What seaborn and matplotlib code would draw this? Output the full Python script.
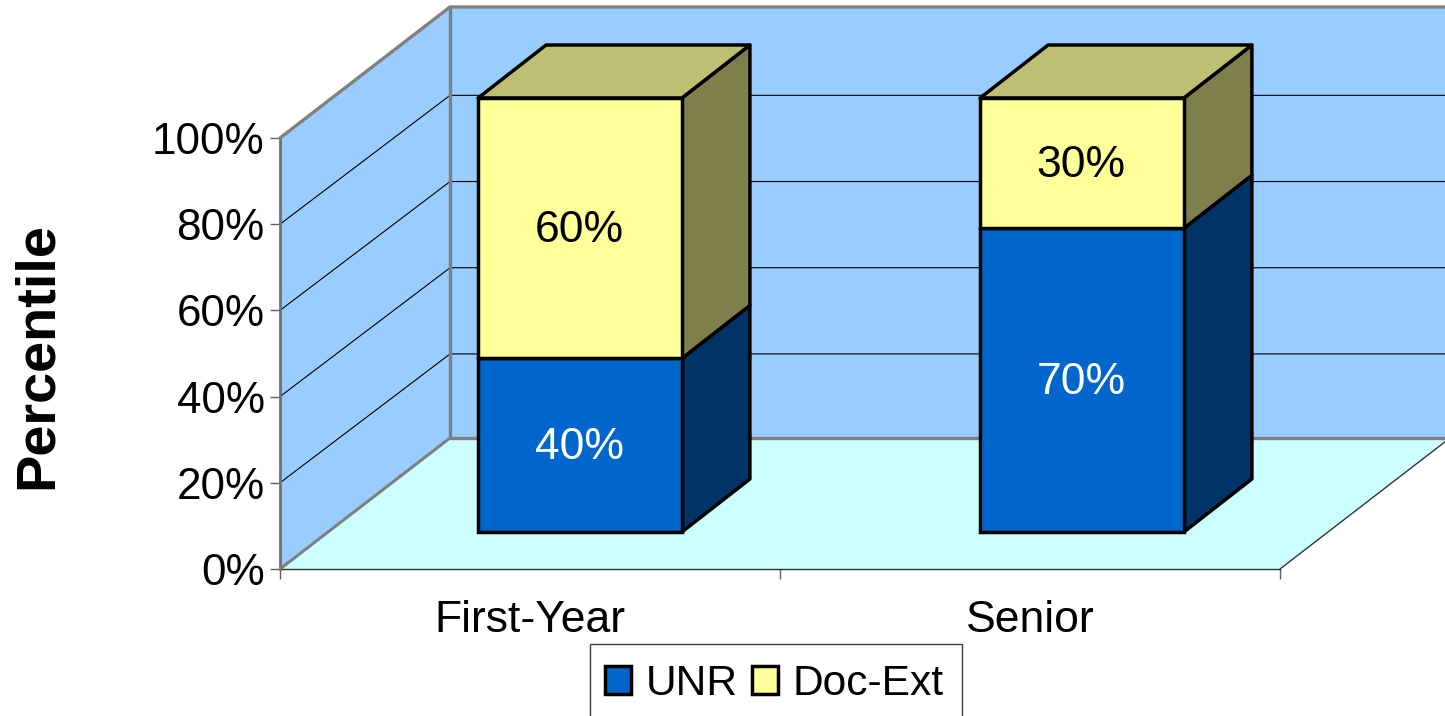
"""3D-look stacked percentile bars, first-year vs senior students."""

import matplotlib.pyplot as plt
import seaborn as sns
from matplotlib.patches import Patch, Polygon, Rectangle
from matplotlib.ticker import FixedLocator, NullFormatter

categories = ["First-Year", "Senior"]
unr_values = [40, 70]
doc_ext_values = [60, 30]
y_ticks = [0, 20, 40, 60, 80, 100]
y_tick_labels = ["0%", "20%", "40%", "60%", "80%", "100%"]

W, H = 1445, 716
WALL_COL = "#99CCFF"
FLOOR_COL = "#CCFFFF"
EDGE_GRAY = "#808080"
BAR_STYLES = [
    # front, side, top
    ("#0066CC", "#003366", "#00509F"),
    ("#FFFF99", "#7F7F4C", "#BFBF73"),
]


def px_axes(fig, left, right, top, bottom):
    """Axes placed by pixel edges, y measured from the top of the image."""
    return fig.add_axes([left / W, 1 - bottom / H, (right - left) / W, (bottom - top) / H])


def add_poly(ax, pts, **kwargs):
    ax.add_patch(Polygon(pts, closed=True, clip_on=False, **kwargs))


sns.set_theme(style="white")
plt.rcParams["font.family"] = ["Liberation Sans", "DejaVu Sans"]

fig = plt.figure(figsize=(W / 100, H / 100), dpi=100)

# walls and floor, front plane of the box is the axes itself
ax = px_axes(fig, 280, 1280, 138, 569)
ax.set_xlim(-0.5, 1.5)
ax.set_ylim(0, 100)
ax.patch.set_alpha(0)

wall_dx = 0.34
wall_dy = 30.4
grid_dy = 29.9
far_x = 1.5 + wall_dx

add_poly(ax, [(-0.5, 0), (-0.5 + wall_dx, wall_dy), (far_x, wall_dy), (1.5, 0)],
         facecolor=FLOOR_COL, edgecolor="none", zorder=1)
add_poly(ax, [(-0.5 + wall_dx, wall_dy), (far_x, wall_dy), (far_x, 100 + wall_dy), (-0.5 + wall_dx, 100 + wall_dy)],
         facecolor=WALL_COL, edgecolor="none", zorder=1)
add_poly(ax, [(-0.5, 0), (-0.5 + wall_dx, wall_dy), (-0.5 + wall_dx, 100 + wall_dy), (-0.5, 100)],
         facecolor=WALL_COL, edgecolor="none", zorder=1)

for tick in y_ticks[1:-1]:
    ax.plot([-0.5, -0.5 + wall_dx, far_x], [tick, tick + grid_dy, tick + grid_dy],
            color="black", lw=0.8, clip_on=False, zorder=2)

ax.plot([-0.5, -0.5 + wall_dx, far_x], [100, 100 + wall_dy, 100 + wall_dy],
        color=EDGE_GRAY, lw=2.4, clip_on=False, zorder=3)
ax.plot([far_x, -0.5 + wall_dx, -0.5 + wall_dx], [wall_dy, wall_dy, 100 + wall_dy],
        color=EDGE_GRAY, lw=2.4, clip_on=False, zorder=3)
ax.plot([-0.5, -0.5 + wall_dx], [0, wall_dy], color=EDGE_GRAY, lw=2.2, clip_on=False, zorder=3)
ax.plot([1.5, far_x], [0, wall_dy], color="#333333", lw=1.0, clip_on=False, zorder=3)

sns.despine(ax=ax, top=True, right=True)
ax.spines["left"].set_color("#707070")
ax.spines["left"].set_linewidth(2.0)
ax.spines["bottom"].set_color("#303030")
ax.spines["bottom"].set_linewidth(1.0)

ax.set_yticks(y_ticks)
ax.set_yticklabels(y_tick_labels, fontsize=31.7, color="black")
ax.tick_params(axis="y", length=7, width=1.0, color="#606060", pad=4, left=True)
ax.xaxis.set_major_locator(FixedLocator([-0.5, 0.5, 1.5]))
ax.xaxis.set_major_formatter(NullFormatter())
ax.xaxis.set_minor_locator(FixedLocator([0, 1]))
ax.set_xticklabels(categories, minor=True, fontsize=32, color="black")
ax.tick_params(axis="x", which="major", length=7, width=1.0, color="#606060", bottom=True)
ax.tick_params(axis="x", which="minor", length=0, pad=22)

ax.set_ylabel("Percentile", fontsize=40.3, fontweight="bold", color="black")
ax.yaxis.set_label_coords((38 - 280) / 1000, (569 - 356) / 431)
ax.yaxis.label.set_verticalalignment("center")

# bars stand further back in the box, so they get their own axes
bar_ax = px_axes(fig, 329, 1333, 98, 532)
bar_ax.patch.set_alpha(0)
bar_ax.axis("off")

sns.barplot(x=categories, y=unr_values, color=BAR_STYLES[0][0], saturation=1, width=0.406,
            edgecolor="black", linewidth=2.5, ax=bar_ax, zorder=5)
sns.barplot(x=categories, y=doc_ext_values, bottom=unr_values, color=BAR_STYLES[1][0], saturation=1,
            width=0.406, edgecolor="black", linewidth=2.5, ax=bar_ax, zorder=5)
bar_ax.set_xlim(-0.5, 1.5)
bar_ax.set_ylim(0, 100)
for bar in bar_ax.patches:
    bar.set_clip_on(False)

bar_dx = 68 / 502
bar_dy = 53 / 4.34
face_kw = dict(edgecolor="black", linewidth=2.5, joinstyle="round", zorder=4)
half = 0.406 / 2
label_kw = dict(fontsize=32, ha="center", va="center", zorder=6, xytext=(-1, -2),
                textcoords="offset pixels")

for i in range(len(categories)):
    low, high = unr_values[i], unr_values[i] + doc_ext_values[i]
    right = i + half
    left = i - half
    add_poly(bar_ax, [(right, 0), (right + bar_dx, bar_dy), (right + bar_dx, low + bar_dy), (right, low)],
             facecolor=BAR_STYLES[0][1], **face_kw)
    add_poly(bar_ax, [(right, low), (right + bar_dx, low + bar_dy), (right + bar_dx, high + bar_dy), (right, high)],
             facecolor=BAR_STYLES[1][1], **face_kw)
    add_poly(bar_ax, [(left, high), (left + bar_dx, high + bar_dy), (right + bar_dx, high + bar_dy), (right, high)],
             facecolor=BAR_STYLES[1][2], **face_kw)
    bar_ax.annotate(f"{unr_values[i]}%", (i, low / 2), color="white", **label_kw)
    bar_ax.annotate(f"{doc_ext_values[i]}%", (i, low + doc_ext_values[i] / 2), color="black", **label_kw)

# legend box runs off the bottom of the image, so the frame is drawn apart
fig.add_artist(Rectangle((590 / W, 1 - 740 / H), 372 / W, 96 / H, transform=fig.transFigure,
                         facecolor="white", edgecolor="#404040", linewidth=1.0))
handles = [
    Patch(facecolor=BAR_STYLES[0][0], edgecolor="black", linewidth=2.5, label="UNR"),
    Patch(facecolor=BAR_STYLES[1][0], edgecolor="black", linewidth=2.5, label="Doc-Ext"),
]
leg = fig.legend(handles=handles, ncol=2, fontsize=30.6, loc="upper left",
                 bbox_to_anchor=(605 / W, 1 - 664 / H), borderaxespad=0, borderpad=0,
                 handlelength=0.62, handleheight=0.62, handletextpad=0.34, columnspacing=0.33,
                 frameon=False)
for txt in leg.get_texts():
    txt.set_color("black")

fig.savefig("out.png", dpi=100, facecolor="white")
